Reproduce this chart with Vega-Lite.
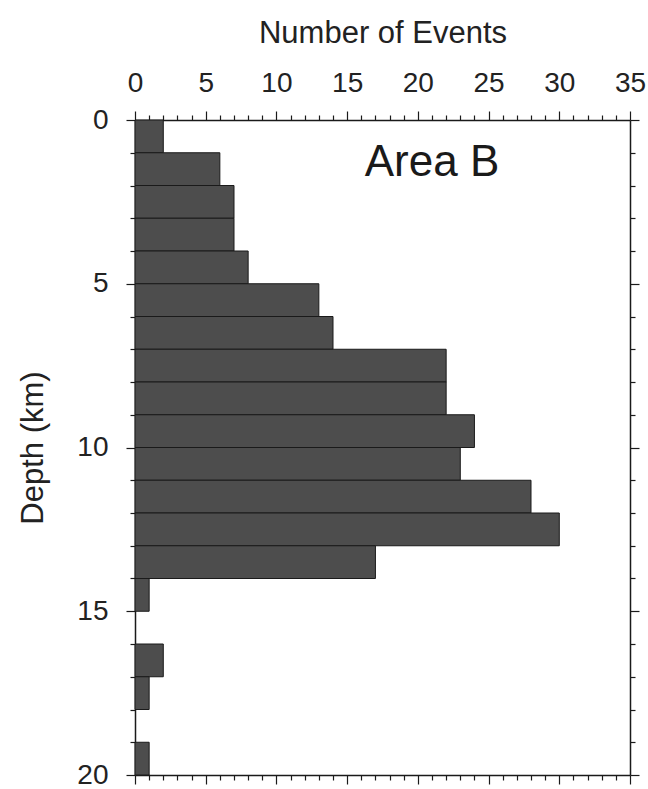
{
  "$schema": "https://vega.github.io/schema/vega-lite/v6.json",
  "width": 495,
  "height": 655,
  "autosize": {"type": "none"},
  "padding": {"left": 135, "top": 120, "right": 18, "bottom": 14},
  "background": "white",
  "config": {
    "view": {"stroke": null},
    "font": "Liberation Sans",
    "axis": {
      "domainColor": "#1a1a1a",
      "domainWidth": 1.5,
      "tickColor": "#1a1a1a",
      "tickWidth": 1.2,
      "grid": false,
      "labelFont": "Liberation Sans",
      "labelFontSize": 28,
      "labelColor": "#222222",
      "titleFont": "Liberation Sans",
      "titleFontSize": 31,
      "titleFontWeight": "normal",
      "titleColor": "#222222"
    }
  },
  "datasets": {
    "hist": [
      {"d0": 0, "d1": 1, "count": 2},
      {"d0": 1, "d1": 2, "count": 6},
      {"d0": 2, "d1": 3, "count": 7},
      {"d0": 3, "d1": 4, "count": 7},
      {"d0": 4, "d1": 5, "count": 8},
      {"d0": 5, "d1": 6, "count": 13},
      {"d0": 6, "d1": 7, "count": 14},
      {"d0": 7, "d1": 8, "count": 22},
      {"d0": 8, "d1": 9, "count": 22},
      {"d0": 9, "d1": 10, "count": 24},
      {"d0": 10, "d1": 11, "count": 23},
      {"d0": 11, "d1": 12, "count": 28},
      {"d0": 12, "d1": 13, "count": 30},
      {"d0": 13, "d1": 14, "count": 17},
      {"d0": 14, "d1": 15, "count": 1},
      {"d0": 15, "d1": 16, "count": 0},
      {"d0": 16, "d1": 17, "count": 2},
      {"d0": 17, "d1": 18, "count": 1},
      {"d0": 18, "d1": 19, "count": 0},
      {"d0": 19, "d1": 20, "count": 1}
    ],
    "label": [{"text": "Area B", "x": 21, "y": 1.3}]
  },
  "layer": [
    {
      "data": {"name": "hist"},
      "transform": [{"filter": "datum.count > 0"}],
      "mark": {"type": "bar", "fill": "#4d4d4d", "stroke": "#1a1a1a", "strokeWidth": 1},
      "encoding": {
        "x": {
          "field": "count", "type": "quantitative",
          "scale": {"domain": [0, 35], "nice": false, "zero": true},
          "axis": {
            "orient": "top",
            "title": "Number of Events",
            "titlePadding": 20,
            "values": [0,1,2,3,4,5,6,7,8,9,10,11,12,13,14,15,16,17,18,19,20,21,22,23,24,25,26,27,28,29,30,31,32,33,34,35],
            "labelExpr": "datum.value % 5 === 0 ? datum.label : ''",
            "tickSize": {"condition": {"test": "datum.value % 5 === 0", "value": 9}, "value": 5},
            "labelPadding": 14,
            "labelFlush": false,
            "labelOverlap": false
          }
        },
        "x2": {"datum": 0},
        "y": {
          "field": "d0", "type": "quantitative",
          "scale": {"domain": [0, 20], "reverse": true, "nice": false},
          "axis": {
            "orient": "left",
            "title": "Depth (km)",
            "titlePadding": 27,
            "values": [0,1,2,3,4,5,6,7,8,9,10,11,12,13,14,15,16,17,18,19,20],
            "labelExpr": "datum.value % 5 === 0 ? datum.label : ''",
            "tickSize": {"condition": {"test": "datum.value % 5 === 0", "value": 9}, "value": 5},
            "labelPadding": 18,
            "labelFlush": false,
            "labelOverlap": false
          }
        },
        "y2": {"field": "d1"}
      }
    },
    {
      "data": {"name": "hist"},
      "mark": {"type": "bar", "opacity": 0},
      "encoding": {
        "x": {
          "field": "count", "type": "quantitative",
          "axis": {
            "orient": "bottom",
            "title": null,
            "labels": false,
            "values": [0,1,2,3,4,5,6,7,8,9,10,11,12,13,14,15,16,17,18,19,20,21,22,23,24,25,26,27,28,29,30,31,32,33,34,35],
            "tickSize": {"condition": {"test": "datum.value % 5 === 0", "value": 9}, "value": 5}
          }
        },
        "x2": {"datum": 0},
        "y": {
          "field": "d0", "type": "quantitative",
          "axis": {
            "orient": "right",
            "title": null,
            "labels": false,
            "values": [0,1,2,3,4,5,6,7,8,9,10,11,12,13,14,15,16,17,18,19,20],
            "tickSize": {"condition": {"test": "datum.value % 5 === 0", "value": 9}, "value": 5}
          }
        },
        "y2": {"field": "d1"}
      }
    },
    {
      "data": {"name": "label"},
      "mark": {"type": "text", "font": "Liberation Sans", "fontSize": 44, "color": "#1a1a1a", "align": "center", "baseline": "middle"},
      "encoding": {
        "x": {"field": "x", "type": "quantitative", "axis": null},
        "y": {"field": "y", "type": "quantitative", "axis": null},
        "text": {"field": "text"}
      }
    }
  ],
  "resolve": {"axis": {"x": "independent", "y": "independent"}}
}
